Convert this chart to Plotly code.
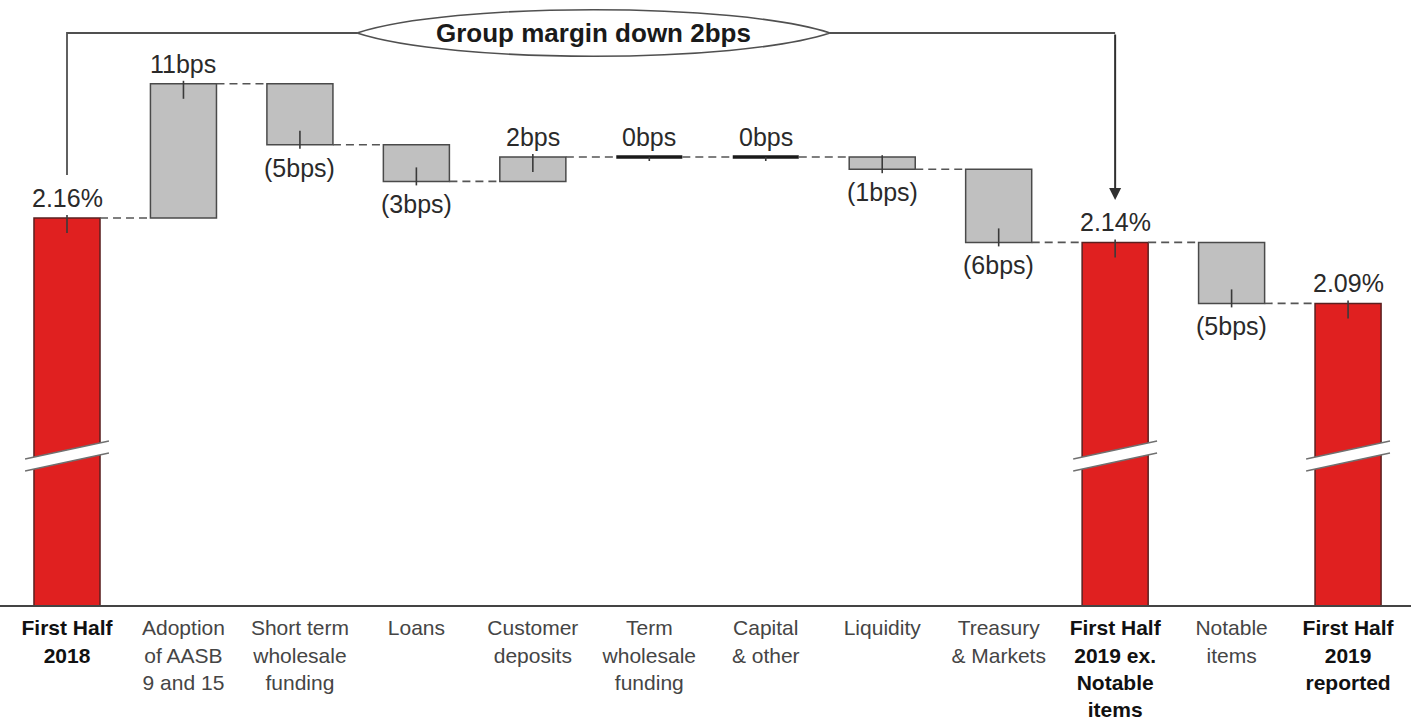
import plotly.graph_objects as go

# ---------------- data ----------------
categories = [
    "First Half|2018", "Adoption|of AASB|9 and 15", "Short term|wholesale|funding",
    "Loans", "Customer|deposits", "Term|wholesale|funding", "Capital|& other",
    "Liquidity", "Treasury|& Markets", "First Half|2019 ex.|Notable|items",
    "Notable|items", "First Half|2019|reported",
]
measures = ["absolute", "relative", "relative", "relative", "relative", "relative",
            "relative", "relative", "relative", "total", "relative", "total"]
values = [2.16, 0.11, -0.05, -0.03, 0.02, 0.00, 0.00, -0.01, -0.06, 2.14, -0.05, 2.09]
value_labels = ["2.16%", "11bps", "(5bps)", "(3bps)", "2bps", "0bps", "0bps",
                "(1bps)", "(6bps)", "2.14%", "(5bps)", "2.09%"]
headline = "Group margin down 2bps"

# ---------------- layout constants ----------------
W, H = 1411, 720
AXIS_PX = 605                      # page y of the category axis
MB = H - AXIS_PX
PX_PER_UNIT = 1220.0               # pixels per 1.00 percentage point
REF_LEVEL, REF_LEVEL_PX = 2.16, 218
FONT = "Liberation Sans, Arial, sans-serif"
RED = "#e02020"
GREY = "#c0c0c0"
EDGE = "#4a4a4a"
BAR_W = 0.567
X_PER_PX = 1 / 116.46
X_MIN = (0 - 67) * X_PER_PX
X_MAX = X_MIN + W * X_PER_PX


def ypx(px):
    """axis value that sits at a given pixel row"""
    return REF_LEVEL + (REF_LEVEL_PX - px) / PX_PER_UNIT


def xpx(px):
    return (px - 67) * X_PER_PX


def d(px):
    return px / PX_PER_UNIT


Y_MAX = ypx(0)
Y_MIN = ypx(AXIS_PX)

# ---------------- derived levels ----------------
starts, ends = [], []
level = 0.0
for m, v in zip(measures, values):
    if m in ("absolute", "total"):
        starts.append(0.0)
        level = v
    else:
        starts.append(level)
        level = round(level + v, 4)
    ends.append(level)

tot_idx = [i for i, m in enumerate(measures) if m != "relative"]
rel_idx = [i for i, m in enumerate(measures) if m == "relative" and values[i] != 0]
zero_idx = [i for i, m in enumerate(measures) if m == "relative" and values[i] == 0]

fig = go.Figure()

# totals (red)
fig.add_trace(go.Bar(
    x=tot_idx, y=[ends[i] for i in tot_idx], base=0,
    width=BAR_W, marker=dict(color=RED, line=dict(color="#5a2020", width=1.5)),
    hoverinfo="skip", showlegend=False,
))
# deltas (grey)
fig.add_trace(go.Bar(
    x=rel_idx, y=[abs(values[i]) for i in rel_idx],
    base=[min(starts[i], ends[i]) for i in rel_idx],
    width=BAR_W, marker=dict(color=GREY, line=dict(color=EDGE, width=1.5)),
    hoverinfo="skip", showlegend=False,
))
# zero deltas as thick lines
zx, zy = [], []
for i in zero_idx:
    zx += [i - BAR_W / 2, i + BAR_W / 2, None]
    zy += [ends[i], ends[i], None]
fig.add_trace(go.Scatter(x=zx, y=zy, mode="lines", line=dict(color="#1a1a1a", width=3.5),
                         hoverinfo="skip", showlegend=False))

# dashed connectors
cx, cy = [], []
for i in range(len(values) - 1):
    cx += [i + BAR_W / 2, i + 1 - BAR_W / 2, None]
    cy += [ends[i], ends[i], None]
fig.add_trace(go.Scatter(x=cx, y=cy, mode="lines",
                         line=dict(color="#555555", width=1.6, dash="8px,5px"),
                         hoverinfo="skip", showlegend=False))

# small leader ticks at bar ends
tx, ty = [], []
for i, m in enumerate(measures):
    e = ends[i]
    if m != "relative" or values[i] > 0:
        tx += [i, i, None]; ty += [e + d(3), e - d(15), None]
    elif values[i] < 0:
        tx += [i, i, None]; ty += [e + d(14), e - d(4), None]
    else:
        tx += [i, i, None]; ty += [e, e - d(4), None]
fig.add_trace(go.Scatter(x=tx, y=ty, mode="lines", line=dict(color="#3a3a3a", width=1.6),
                         hoverinfo="skip", showlegend=False))

annotations = []
for i, m in enumerate(measures):
    up = m != "relative" or values[i] >= 0
    annotations.append(dict(x=i, y=ends[i], text=value_labels[i], showarrow=False,
                            yanchor="bottom" if up else "top", yshift=4 if up else -7,
                            font=dict(family=FONT, size=25, color="#2a2a2a")))

shapes = []
# axis-break marks on the red bars
for i in tot_idx:
    xl, xr = i - 0.36, i + 0.36
    yl_t, yr_t = ypx(459), ypx(441)
    yl_b, yr_b = ypx(471), ypx(453)
    shapes.append(dict(type="path", xref="x", yref="y",
                       path=f"M{xl},{yl_t} L{xr},{yr_t} L{xr},{yr_b} L{xl},{yl_b} Z",
                       fillcolor="white", line=dict(width=0), layer="above"))
    shapes.append(dict(type="line", xref="x", yref="y", x0=xl, y0=yl_t, x1=xr, y1=yr_t,
                       line=dict(color="#707070", width=1.3), layer="above"))
    shapes.append(dict(type="line", xref="x", yref="y", x0=xl, y0=yl_b, x1=xr, y1=yr_b,
                       line=dict(color="#707070", width=1.3), layer="above"))

# group-margin bracket
TOP_Y = ypx(33)
ELL_X0, ELL_X1 = xpx(357), xpx(830)
shapes.append(dict(type="path", xref="x", yref="y",
                   path=f"M0,{ypx(175)} L0,{TOP_Y} L{ELL_X0},{TOP_Y}",
                   line=dict(color="#505050", width=1.8)))
shapes.append(dict(type="line", xref="x", yref="y", x0=ELL_X1, y0=TOP_Y, x1=9, y1=TOP_Y,
                   line=dict(color="#505050", width=1.8)))
# lens-shaped outline around the headline
ca, cb = xpx(357 + 95), xpx(830 - 95)
lens = (f"M{ELL_X0},{TOP_Y} C{ca},{ypx(2)} {cb},{ypx(2)} {ELL_X1},{TOP_Y} "
        f"C{cb},{ypx(64)} {ca},{ypx(64)} {ELL_X0},{TOP_Y} Z")
shapes.append(dict(type="path", xref="x", yref="y", path=lens, fillcolor="white",
                   line=dict(color="#505050", width=1.6)))
annotations.append(dict(x=9, y=ypx(200), ax=9, ay=TOP_Y, axref="x", ayref="y",
                        xref="x", yref="y", text="", showarrow=True, arrowhead=2,
                        arrowsize=1.2, arrowwidth=2, arrowcolor="#303030", standoff=0))
annotations.append(dict(x=(ELL_X0 + ELL_X1) / 2, y=TOP_Y, text=f"<b>{headline}</b>",
                        showarrow=False, font=dict(family=FONT, size=26, color="#1a1a1a")))


def tick_text(label, bold):
    lines = label.split("|")
    if bold:
        return "<br>".join(f"<span style='color:#111111'><b>{ln}</b></span>" for ln in lines)
    return "<br>".join(lines)


ticktext = [tick_text(c, measures[i] != "relative") for i, c in enumerate(categories)]

fig.update_layout(
    width=W, height=H,
    margin=dict(l=0, r=0, t=0, b=MB, autoexpand=False),
    plot_bgcolor="white", paper_bgcolor="white",
    barmode="overlay",
    shapes=shapes, annotations=annotations,
    xaxis=dict(range=[X_MIN, X_MAX], tickmode="array", tickvals=list(range(len(categories))),
               ticktext=ticktext, showgrid=False, zeroline=False, showline=True,
               linecolor="#444444", linewidth=2, ticks="", ticklabelstandoff=3,
               automargin=False,
               tickfont=dict(family=FONT, size=21, color="#454545"), fixedrange=True),
    yaxis=dict(range=[Y_MIN, Y_MAX], visible=False, fixedrange=True, automargin=False),
    font=dict(family=FONT),
)

fig.write_html("out.html", config={"displayModeBar": False},
               post_script="document.body.style.margin='0';document.body.style.overflow='hidden';")
